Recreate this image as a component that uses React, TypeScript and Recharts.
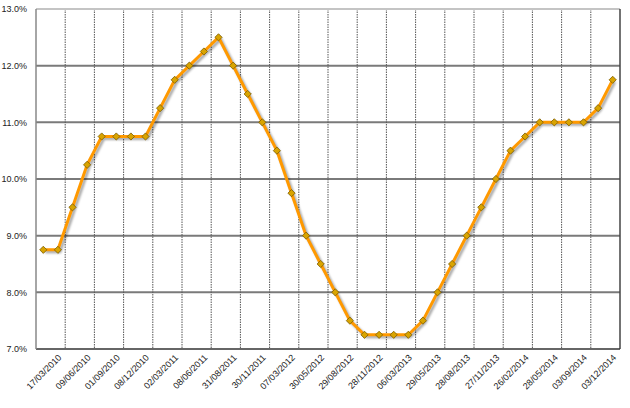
import React from 'react';
import { LineChart, Line, XAxis, YAxis, CartesianGrid, ReferenceLine } from 'recharts';

const dates = [
  '27/01/2010', '17/03/2010', '28/04/2010', '09/06/2010', '21/07/2010', '01/09/2010', '20/10/2010', '08/12/2010',
  '19/01/2011', '02/03/2011', '20/04/2011', '08/06/2011', '20/07/2011', '31/08/2011', '19/10/2011', '30/11/2011',
  '18/01/2012', '07/03/2012', '18/04/2012', '30/05/2012', '11/07/2012', '29/08/2012', '10/10/2012', '28/11/2012',
  '16/01/2013', '06/03/2013', '17/04/2013', '29/05/2013', '10/07/2013', '28/08/2013', '09/10/2013', '27/11/2013',
  '15/01/2014', '26/02/2014', '02/04/2014', '28/05/2014', '16/07/2014', '03/09/2014', '29/10/2014', '03/12/2014',
];

const rates = [
  8.75, 8.75, 9.5, 10.25, 10.75, 10.75, 10.75, 10.75,
  11.25, 11.75, 12.0, 12.25, 12.5, 12.0, 11.5, 11.0,
  10.5, 9.75, 9.0, 8.5, 8.0, 7.5, 7.25, 7.25,
  7.25, 7.25, 7.5, 8.0, 8.5, 9.0, 9.5, 10.0,
  10.5, 10.75, 11.0, 11.0, 11.0, 11.0, 11.25, 11.75,
];

const yTicks = [7, 8, 9, 10, 11, 12, 13];
const yInner = [8, 9, 10, 11, 12];

const data = dates.map((d, i) => ({ idx: i, date: d, rate: rates[i] }));
const labelIdx = dates.map((_, i) => i).filter((i) => i % 2 === 1);
const gridIdx = dates.map((_, i) => i).filter((i) => i % 2 === 0 && i > 0).map((i) => i - 0.5);
const xMin = -0.5;
const xMax = dates.length - 0.5;

const FONT = '"Liberation Sans", Arial, sans-serif';

const XTick = (props: any) => {
  const { x, y, payload } = props;
  const ax = x + 2;
  const ay = y + 7;
  return (
    <text
      x={ax}
      y={ay}
      textAnchor="end"
      dominantBaseline="central"
      transform={`rotate(-45 ${ax} ${ay})`}
      fontSize={9}
      fontFamily={FONT}
      fill="#222"
    >
      {dates[payload.value]}
    </text>
  );
};

const Diamond = (props: any) => {
  const { cx, cy, index } = props;
  if (cx == null || cy == null) return null;
  const r = 3.6;
  return (
    <polygon
      key={`d${index}`}
      points={`${cx},${cy - r} ${cx + r},${cy} ${cx},${cy + r} ${cx - r},${cy}`}
      fill="#d9a400"
      stroke="#7a5a00"
      strokeWidth={0.8}
    />
  );
};

export default function App() {
  return (
    <div style={{ position: 'absolute', left: 0, top: 0, width: 630, height: 408, background: '#fff' }}>
      <style>{`.shadowline { filter: drop-shadow(2px 2px 1.2px rgba(0,0,0,0.35)); }`}</style>
      <LineChart width={630} height={408} data={data} margin={{ top: 9, right: 10, left: 0, bottom: 0 }}>
        <CartesianGrid vertical={false} horizontalValues={yInner} stroke="#7a7a7a" strokeWidth={2} />
        <CartesianGrid horizontal={false} verticalValues={gridIdx} stroke="#555" strokeDasharray="1.5 1" strokeWidth={1} />
        <ReferenceLine y={13} stroke="#c4c4c4" strokeWidth={2} />
        <ReferenceLine x={xMax} stroke="#444" strokeWidth={1.5} />
        <XAxis
          type="number"
          dataKey="idx"
          domain={[xMin, xMax]}
          ticks={labelIdx}
          interval={0}
          height={59}
          tickLine={false}
          tickSize={0}
          tickMargin={0}
          axisLine={{ stroke: '#333', strokeWidth: 1.5 }}
          tick={<XTick />}
        />
        <YAxis
          type="number"
          domain={[7, 13]}
          ticks={yTicks}
          interval={0}
          width={36}
          tickLine={false}
          tickSize={0}
          tickMargin={9}
          axisLine={{ stroke: '#888', strokeWidth: 1.5 }}
          tickFormatter={(v: number) => `${v.toFixed(1)}%`}
          tick={{ fontSize: 9, fontFamily: FONT, fill: '#222' }}
        />
        <Line
          className="shadowline"
          type="linear"
          dataKey="rate"
          stroke="#ff9900"
          strokeWidth={3}
          dot={<Diamond />}
          activeDot={false}
          isAnimationActive={false}
        />
      </LineChart>
    </div>
  );
}
